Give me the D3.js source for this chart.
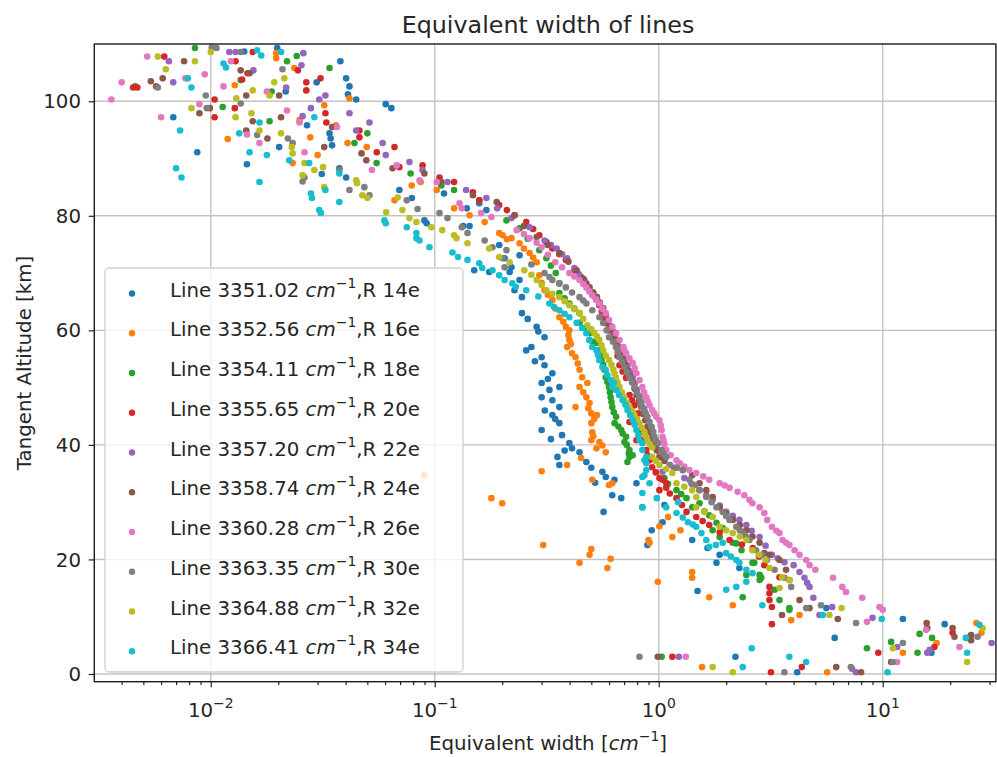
<!DOCTYPE html>
<html><head><meta charset="utf-8">
<script src="https://cdn.jsdelivr.net/npm/d3@7"></script>
<style>body{margin:0;background:#fff;} svg{display:block;font-family:"DejaVu Sans",sans-serif;}</style>
</head><body><svg id="c" width="997" height="757"></svg>
<script>
// ---------- data ----------
const lineWavenumbers = ["3351.02","3352.56","3354.11","3355.65","3357.20","3358.74","3360.28","3363.35","3364.88","3366.41"];
const lineBranches = ["R 14e","R 16e","R 18e","R 20e","R 22e","R 24e","R 26e","R 30e","R 32e","R 34e"];
const colors = ["#1f77b4","#ff7f0e","#2ca02c","#d62728","#9467bd","#8c564b","#e377c2","#7f7f7f","#bcbd22","#17becf"];
const xMajorTicks = [0.01, 0.1, 1, 10];
const xTickExponents = ["\u22122","\u22121","0","1"];
const yTicks = [0, 20, 40, 60, 80, 100];

// each point: [equivalent width (cm^-1), tangent altitude (km)]
const line14e = [[0.0141,108.7],[0.0198,109.3],[0.0379,107.0],[0.0297,103.3],[0.0402,104.0],[0.0416,102.6],[0.041,101.2],[0.0446,100.3],[0.0604,99.5],[0.064,98.8],[0.0216,101.7],[0.0068,97.2],[0.0269,95.8],[0.0339,94.4],[0.0348,92.3],[0.0202,92.0],[0.0087,91.1],[0.0145,89.0],[0.0313,87.3],[0.0375,88.3],[0.0402,86.7],[0.0343,93.5],
[0.0695,84.5],[0.079,83.1],[0.0899,79.2],[0.092,78.7],[0.110,83.9],[0.139,81.3],[0.158,82.2],[0.170,81.0],[0.134,78.2],[0.143,78.2],[0.150,70.5],[0.175,70.2],[0.220,71.0],[0.194,74.9],[0.239,73.1],[0.216,70.2],[0.227,67.0],[0.205,72.6],
[0.239,68.8],[0.245,65.8],[0.245,63.0],[0.26,62.0],[0.285,60.6],[0.29,59.8],[0.309,58.8],[0.256,56.5],[0.27,57.1],[0.30,55.3],[0.28,54.6],[0.309,53.9],[0.335,52.5],[0.32,51.5],[0.30,50.8],[0.325,49.6],[0.36,50.1],[0.30,48.3],[0.335,47.8],[0.36,46.6],[0.31,46.0],[0.335,45.2],[0.345,44.5],[0.36,43.8],[0.30,42.6],[0.37,41.7],[0.33,41.0],[0.399,40.3],[0.41,39.4],[0.38,39.0],[0.443,38.7],[0.353,37.9],[0.36,36.5],[0.475,37.0],[0.5,36.0],[0.56,35.3],[0.58,34.4],[0.634,33.9],[0.52,33.4],[0.62,31.2],[0.68,30.7],[0.795,33.3],[0.845,29.1],[0.567,28.3],[1.06,29.5],
[0.93,25.1],[0.89,22.5],[1.04,26.5],[1.41,23.4],[1.49,14.5],[1.87,20.8],[2.29,18.5],[1.81,19.4],[1.65,22.0],[2.2,3.0],[4.15,0.3],[6.1,6.3],[12.3,9.6],[18.9,8.7],[16.5,3.7],[5.6,11.5]];

const line16e = [[0.0196,108.4],[0.0196,107.5],[0.0236,105.8],[0.0128,102.8],[0.0416,100.5],[0.0362,95.8],[0.0497,92.0],[0.0408,92.7],[0.0119,93.4],[0.0232,89.2],[0.030,90.6],[0.0278,93.7],[0.0249,96.7],[0.0321,99.3],
[0.0789,85.3],[0.0865,85.9],[0.102,84.5],[0.0661,82.7],[0.122,81.3],[0.143,80.1],[0.167,78.9],[0.194,77.0],[0.201,76.6],[0.21,75.9],[0.220,76.1],[0.239,75.2],[0.25,74.3],[0.265,73.5],[0.275,72.7],[0.285,71.9],[0.293,69.6],[0.30,68.3],[0.309,67.0],[0.32,66.2],[0.335,65.3],[0.345,63.8],[0.36,62.3],[0.375,61.5],[0.385,60.6],[0.399,60.0],[0.395,59.2],[0.399,58.3],[0.405,57.6],[0.39,57.1],[0.41,56.0],[0.425,55.3],[0.435,54.2],[0.443,53.1],[0.455,51.8],[0.443,50.1],[0.48,50.8],[0.46,49.2],[0.475,48.3],[0.491,47.3],[0.425,46.6],[0.485,46.4],[0.50,45.5],[0.53,45.2],[0.515,44.5],[0.50,43.8],[0.505,42.2],[0.51,41.5],[0.50,40.8],[0.543,40.5],[0.56,39.9],[0.527,39.4],[0.58,38.7],[0.45,37.7],[0.39,36.5],[0.30,35.4],[0.505,33.9],[0.62,33.3],[0.60,33.0],[0.0899,34.7],
[0.179,30.7],[0.20,29.8],[0.305,22.5],[0.443,19.4],[0.491,20.8],[0.50,21.8],[0.59,18.5],[0.61,20.1],[0.99,16.1],[0.90,23.4],[0.91,22.9],[1.007,25.8],[1.10,27.4],[1.15,23.9],[1.25,25.1],[1.41,17.8],[1.41,16.8],[1.68,13.4],[2.14,12.0],[3.9,9.4],[4.25,10.3],[1.56,1.2],[5.65,0.3],[12.3,3.7],[17.4,5.4],[26.2,8.9],[27.6,7.2]];

const line18e = [[0.0085,109.3],[0.0046,102.6],[0.0113,99.0],[0.0136,103.7],[0.0219,107.0],[0.0242,107.9],[0.0183,96.5],[0.0187,101.7],[0.0339,105.8],[0.050,94.4],[0.0438,92.7],[0.055,89.2],[0.078,87.4],[0.107,85.3],[0.122,84.5],
[0.158,82.7],[0.209,79.2],[0.239,77.8],[0.26,76.0],[0.293,74.0],[0.315,72.6],[0.33,71.3],[0.347,70.0],[0.36,68.2],[0.36,66.5],[0.38,65.6],[0.399,64.7],[0.42,63.8],[0.443,63.0],[0.443,61.3],[0.465,60.4],[0.491,59.5],[0.491,58.3],[0.51,58.0],[0.53,57.8],[0.543,56.5],[0.55,55.6],[0.555,54.8],[0.565,54.0],[0.572,53.1],[0.58,51.8],[0.59,51.0],[0.60,50.1],[0.605,49.2],[0.61,48.3],[0.615,47.5],[0.62,46.6],[0.63,45.7],[0.645,44.9],[0.635,43.8],[0.66,43.2],[0.68,42.6],[0.69,42.0],[0.715,41.4],[0.703,40.5],[0.72,40.0],[0.74,39.1],[0.735,38.5],[0.74,37.9],[0.725,37.0],[0.765,38.2],
[1.06,34.2],[1.1,33.2],[1.2,32.1],[1.26,31.4],[1.33,30.7],[1.41,29.1],[1.52,29.8],[1.6,28.4],[1.68,27.7],[1.81,26.4],[1.93,25.5],[1.74,25.1],[1.87,23.9],[2.14,22.9],[2.22,22.8],[2.34,21.6],[2.62,19.4],[2.67,19.4],[2.46,17.3],[2.82,16.4],[2.82,17.3],[2.87,16.8],[2.37,13.4],[3.46,12.9],[3.83,11.2],[3.83,11.5],[3.29,14.7],[8.5,4.5],[10.9,5.6],[14.6,7.0],[14.3,3.7],[16.6,6.3],[1.03,3.0]];

const line20e = [[0.0045,102.4],[0.0047,102.4],[0.0062,107.8],[0.0104,100.3],[0.0104,97.2],[0.0128,98.8],[0.0129,107.0],[0.0146,104.9],[0.0154,108.6],[0.0138,103.8],[0.0245,105.4],[0.0267,103.3],[0.0267,101.9],[0.0309,104.0],[0.0325,97.9],[0.0328,96.3],[0.0461,94.9],[0.0461,93.7],[0.0661,92.0],[0.0551,91.1],[0.0695,88.5],[0.0882,88.8],[0.105,86.7],[0.122,85.9],[0.148,84.1],[0.158,82.7],
[0.194,81.9],[0.21,81.0],[0.227,80.1],[0.256,78.9],[0.275,77.7],[0.293,76.6],[0.315,75.4],[0.335,74.3],[0.36,73.3],[0.385,72.3],[0.42,70.5],[0.45,69.3],[0.475,68.2],[0.505,66.5],[0.525,65.4],[0.543,64.4],[0.557,63.3],[0.572,62.3],[0.585,61.2],[0.60,60.0],[0.62,58.6],[0.645,57.1],[0.655,55.5],[0.668,53.9],[0.69,52.8],[0.715,51.7],[0.74,48.7],[0.76,47.8],[0.779,46.9],[0.81,45.5],[0.795,44.3],[0.74,44.0],[0.83,42.2],[0.86,41.0],[0.795,40.8],[0.88,39.1],[0.89,38.2],[0.91,37.3],[0.935,36.1],[0.97,35.2],[1.007,34.2],[1.04,33.9],[1.08,32.5],[1.007,32.1],[1.08,33.3],[1.12,31.5],[1.2,30.7],[1.27,29.5],[1.33,28.3],[1.47,27.4],[1.57,26.7],[1.68,26.0],[1.87,24.7],[2.07,23.4],[2.35,22.6],[2.63,22.0],[2.8,20.5],[2.96,19.0],[3.46,16.9],[3.12,15.2],[3.12,14.1],[3.12,12.9],[3.2,11.7],[3.2,8.7],[3.17,0.3],[4.35,1.2],[9.55,3.7],[17.0,4.7],[20.5,7.2],[23.8,6.3],[1.15,3.0]];

const line22e = [[0.0065,107.0],[0.0068,103.3],[0.0121,108.6],[0.0129,108.6],[0.0155,105.4],[0.0217,102.4],[0.0254,106.3],[0.0259,108.4],[0.028,98.8],[0.0325,101.0],[0.0305,100.3],[0.0257,97.4],[0.0416,97.9],[0.0511,96.3],[0.0446,94.9],[0.0585,92.7],[0.0604,90.6],[0.0771,89.4],[0.0882,88.0],[0.114,85.9],[0.138,84.5],[0.17,83.1],[0.19,81.3],[0.22,79.6],[0.265,78.0],[0.35,74.3],
[0.309,75.7],[0.33,74.9],[0.37,73.3],[0.39,72.6],[0.42,70.9],[0.44,69.8],[0.466,68.8],[0.50,66.7],[0.52,65.9],[0.543,64.9],[0.56,63.7],[0.58,62.7],[0.61,60.6],[0.63,59.4],[0.655,58.3],[0.68,56.2],[0.70,55.0],[0.725,53.9],[0.745,52.8],[0.765,51.8],[0.78,50.7],[0.80,49.6],[0.82,48.5],[0.835,47.5],[0.86,46.3],[0.88,45.2],[0.91,43.1],[0.93,42.0],[0.957,40.8],[0.975,39.9],[0.99,39.1],[1.04,37.7],[1.04,35.3],[1.17,36.0],[1.3,34.2],[1.4,33.2],[1.52,32.1],[1.63,31.2],[1.74,30.4],[1.87,29.4],[2.0,28.3],[2.14,27.6],[2.29,26.9],[2.46,26.0],[2.6,25.0],[2.82,23.9],[3.0,22.4],[3.2,20.8],[3.4,20.2],[3.64,19.5],[4.0,19.0],[4.25,17.8],[4.47,16.8],[4.6,15.9],[4.71,15.2],[4.9,13.3],[5.22,10.3],[5.95,11.7],[9.0,9.8],[7.3,0.9],[7.6,0.3],[11.6,4.7],[15.8,3.7],[16.2,4.2],[30.6,5.4],[1.23,3.0]];

const line24e = [[0.0054,103.5],[0.0057,102.6],[0.0061,104.0],[0.0076,107.0],[0.0089,97.9],[0.0099,98.8],[0.0136,105.4],[0.0149,104.9],[0.0144,101.0],[0.0144,94.9],[0.0179,93.5],[0.0202,101.0],[0.0206,97.2],[0.0154,96.5],[0.0321,92.0],[0.0348,95.5],[0.0471,90.9],[0.0495,89.7],[0.0648,88.3],[0.0899,87.4],[0.107,85.9],[0.148,83.6],[0.189,82.4],
[0.227,80.1],[0.25,78.2],[0.285,76.3],[0.32,74.9],[0.36,73.5],[0.395,72.0],[0.43,70.5],[0.46,69.0],[0.491,67.5],[0.51,66.6],[0.53,65.8],[0.545,64.8],[0.565,63.9],[0.58,62.8],[0.595,61.8],[0.61,60.7],[0.627,59.7],[0.64,58.5],[0.655,57.4],[0.67,56.3],[0.69,55.3],[0.705,54.2],[0.725,53.1],[0.745,52.0],[0.765,51.0],[0.78,49.8],[0.795,48.7],[0.815,47.6],[0.835,46.6],[0.85,45.4],[0.87,44.3],[0.89,43.2],[0.91,42.2],[0.935,41.1],[0.957,40.0],[0.98,39.0],[1.007,37.9],[1.06,37.2],[1.12,36.5],[1.2,36.0],[1.28,35.6],[1.41,34.7],[1.52,33.3],[1.63,32.1],[1.74,30.9],[1.87,29.1],[2.0,28.0],[2.14,26.9],[2.3,26.0],[2.46,25.1],[2.62,24.0],[2.82,22.9],[2.96,21.1],[3.12,20.8],[3.46,19.9],[3.7,18.2],[3.83,16.4],[4.25,12.9],[3.55,10.3],[4.71,11.5],[6.3,9.6],[6.2,1.2],[8.0,0.3],[10.9,2.1],[15.7,8.9],[15.8,8.0],[20.5,8.0],[20.9,6.5],[24.8,6.8],[24.8,5.9],[0.99,3.0]];

const line26e = [[0.0036,100.3],[0.0040,103.3],[0.0052,107.8],[0.006,97.2],[0.0077,104.0],[0.0089,99.5],[0.0094,104.7],[0.0114,102.6],[0.0123,107.0],[0.0145,94.2],[0.0165,92.7],[0.0178,101.7],[0.0219,98.4],[0.0249,96.3],[0.0262,91.1],[0.0366,95.5],[0.0524,88.0],[0.0676,88.8],[0.0855,86.2],[0.102,85.9],[0.129,82.2],[0.132,81.3],[0.161,80.5],[0.179,79.8],
[0.232,77.5],[0.25,76.8],[0.265,76.1],[0.285,75.3],[0.30,74.5],[0.32,73.2],[0.345,71.9],[0.37,71.0],[0.399,70.0],[0.42,69.4],[0.443,68.8],[0.46,68.1],[0.475,67.5],[0.49,66.8],[0.505,66.1],[0.525,65.4],[0.543,64.7],[0.56,63.8],[0.58,63.0],[0.60,61.8],[0.62,60.6],[0.645,59.5],[0.668,58.3],[0.695,57.1],[0.70,56.6],[0.715,56.0],[0.74,55.1],[0.765,54.3],[0.78,53.4],[0.795,52.5],[0.82,51.3],[0.845,50.1],[0.86,49.2],[0.88,48.3],[0.895,47.6],[0.91,46.9],[0.935,46.1],[0.955,45.5],[0.975,44.9],[1.007,44.3],[1.02,43.4],[1.03,42.6],[1.04,41.4],[1.05,40.8],[1.06,40.1],[1.08,39.1],[1.13,38.2],[1.2,37.3],[1.24,36.8],[1.3,36.2],[1.37,35.6],[1.47,35.1],[1.58,34.5],[1.68,33.9],[1.87,33.3],[1.97,32.9],[2.07,32.5],[2.25,31.8],[2.41,31.2],[2.54,30.4],[2.62,29.8],[2.82,29.1],[2.96,28.1],[3.05,26.9],[3.2,25.7],[3.35,25.0],[3.46,24.6],[3.57,23.4],[3.7,22.9],[3.83,22.5],[4.04,21.6],[4.25,20.8],[4.55,19.9],[4.71,19.0],[5.0,18.2],[6.0,16.8],[6.6,15.2],[6.85,14.3],[8.1,13.3],[9.67,11.7],[10.0,11.2],[8.5,9.1],[1.32,3.0],[11.6,2.1],[22.0,4.7],[15.6,7.7]];

const line30e = [[0.0058,102.4],[0.0101,109.4],[0.0106,109.3],[0.0095,101.0],[0.0096,98.8],[0.0136,99.6],[0.0136,108.6],[0.0161,94.1],[0.0209,105.6],[0.0221,93.5],[0.0232,92.7],[0.0257,86.0],[0.0262,86.7],[0.0375,88.0],[0.0416,84.5],[0.0485,85.0],[0.0511,83.6],[0.075,82.7],[0.0838,81.2],[0.105,80.5],[0.114,79.6],[0.132,78.0],[0.14,77.0],[0.167,75.7],[0.181,74.5],
[0.209,74.0],[0.201,72.6],[0.205,71.0],[0.27,71.5],[0.325,69.3],[0.309,70.0],[0.335,68.8],[0.36,68.2],[0.385,67.5],[0.41,66.6],[0.443,65.8],[0.46,65.2],[0.475,64.7],[0.505,63.5],[0.543,62.3],[0.565,61.3],[0.585,60.0],[0.60,58.8],[0.625,58.0],[0.645,57.1],[0.655,56.2],[0.668,55.3],[0.685,54.5],[0.703,53.6],[0.72,52.7],[0.74,51.8],[0.76,50.9],[0.779,50.1],[0.80,49.2],[0.82,48.3],[0.835,47.5],[0.845,46.6],[0.87,45.7],[0.89,44.9],[0.91,44.0],[0.93,43.1],[0.945,42.3],[0.957,41.4],[0.97,40.8],[0.99,40.3],[1.03,39.1],[1.05,38.5],[1.08,37.9],[1.12,36.5],[1.2,36.0],[1.28,35.6],[1.37,33.9],[1.45,33.0],[1.52,32.1],[1.63,30.9],[1.72,30.0],[1.81,29.1],[1.93,28.3],[2.0,27.6],[2.07,26.9],[2.22,25.7],[2.3,25.1],[2.37,24.6],[2.45,24.0],[2.54,23.4],[2.72,21.6],[2.9,20.8],[3.04,19.9],[3.29,18.2],[3.64,16.8],[3.9,15.2],[4.55,11.5],[5.3,12.0],[7.6,8.9],[12.3,5.4],[3.64,0.3],[7.2,1.2],[26.5,6.5],[11.1,2.1],[0.82,3.0]];

const line32e = [[0.0058,107.8],[0.0063,105.6],[0.0082,98.8],[0.0085,107.0],[0.0129,97.2],[0.013,100.5],[0.0152,97.9],[0.0154,101.9],[0.01,108.6],[0.0165,94.9],[0.0183,101.0],[0.0192,103.3],[0.0213,104.0],[0.0206,94.4],[0.023,92.0],[0.0232,90.9],[0.0262,89.2],[0.0257,87.1],[0.029,88.0],[0.0321,85.0],[0.0317,88.5],[0.0446,86.2],[0.045,85.7],[0.0475,83.6],[0.05,83.1],[0.0683,83.2],[0.0607,80.6],[0.0717,81.0],[0.0771,79.6],[0.0828,78.9],[0.0966,78.0],[0.108,77.5],[0.122,76.6],[0.125,76.1],[0.14,75.2],[0.175,74.3],[0.194,72.8],[0.216,71.9],
[0.251,70.5],[0.27,69.7],[0.285,68.8],[0.30,67.9],[0.315,67.0],[0.335,66.4],[0.36,65.8],[0.38,65.1],[0.399,64.4],[0.42,63.7],[0.443,63.0],[0.46,62.0],[0.48,60.9],[0.50,60.2],[0.516,59.5],[0.53,58.9],[0.543,58.3],[0.555,57.4],[0.565,56.5],[0.58,55.6],[0.60,54.8],[0.615,54.0],[0.627,53.1],[0.635,52.4],[0.645,51.7],[0.655,50.9],[0.668,50.1],[0.685,49.2],[0.703,48.3],[0.72,47.4],[0.74,46.6],[0.76,45.9],[0.779,45.2],[0.80,44.5],[0.82,43.8],[0.84,43.0],[0.863,42.2],[0.875,41.5],[0.89,40.8],[0.91,40.2],[0.935,39.6],[0.935,37.9],[0.97,37.2],[1.007,36.5],[1.08,35.8],[1.15,35.1],[1.2,33.3],[1.3,32.7],[1.41,32.1],[1.47,30.9],[1.47,29.1],[1.6,28.3],[1.74,27.4],[1.87,25.7],[2.0,25.1],[2.14,24.6],[2.3,24.0],[2.46,23.4],[2.62,21.6],[2.8,20.8],[3.0,19.9],[3.12,18.5],[3.55,16.9],[3.83,16.4],[3.46,15.0],[6.55,11.5],[5.78,10.3],[11.1,4.5],[23.8,2.1],[27.9,8.0],[1.74,1.2],[2.14,0.3]];

const line34e = [[0.007,88.3],[0.0074,86.7],[0.0073,94.9],[0.0079,104.0],[0.0082,102.4],[0.0114,106.6],[0.0117,105.9],[0.0134,94.4],[0.0149,91.1],[0.0165,85.9],[0.0178,90.6],[0.0165,96.3],[0.0161,108.9],[0.0168,108.0],[0.0224,89.7],[0.0275,89.2],[0.028,83.9],[0.0283,83.1],[0.0305,81.0],[0.031,80.5],[0.0375,82.4],[0.0325,84.5],[0.0375,87.4],[0.029,97.2],[0.0206,108.6],
[0.0596,79.2],[0.0604,78.7],[0.075,78.0],[0.0828,77.0],[0.0828,76.1],[0.0855,75.7],[0.0947,74.5],[0.12,73.6],[0.127,72.8],[0.14,72.3],[0.158,71.7],[0.163,70.9],[0.181,70.5],[0.194,69.6],[0.205,68.8],[0.222,68.2],[0.23,67.6],[0.256,67.0],[0.29,65.9],[0.325,64.7],[0.34,64.1],[0.36,63.5],[0.38,62.9],[0.399,62.3],[0.43,61.3],[0.455,60.4],[0.475,59.5],[0.49,58.3],[0.505,57.1],[0.527,56.5],[0.535,55.7],[0.543,54.8],[0.56,53.6],[0.58,53.1],[0.59,52.2],[0.61,51.3],[0.63,50.8],[0.62,50.1],[0.645,49.6],[0.665,48.7],[0.69,47.8],[0.71,47.0],[0.725,46.1],[0.745,45.2],[0.765,44.3],[0.78,43.5],[0.795,42.6],[0.81,41.7],[0.82,40.8],[0.845,40.3],[0.845,39.1],[0.88,37.9],[0.863,37.3],[0.88,36.8],[0.88,35.6],[0.863,34.7],[0.845,34.4],[0.91,33.3],[0.845,31.6],[0.98,30.7],[0.845,29.1],[1.08,29.1],[1.2,28.1],[1.22,30.0],[1.28,27.3],[1.35,26.5],[1.42,26.1],[1.47,25.7],[1.55,24.6],[1.63,23.4],[1.68,22.2],[1.8,22.5],[1.93,22.9],[2.0,21.1],[2.1,20.5],[2.22,19.9],[2.29,19.4],[2.46,18.2],[2.62,17.6],[2.46,16.1],[2.0,14.7],[2.22,15.2],[2.9,12.0],[2.6,4.5],[3.83,3.0],[4.55,2.1],[2.37,1.2],[5.4,10.3],[9.9,9.6],[10.5,0.3],[23.8,3.7],[27.0,8.6],[23.5,6.3]];

const seriesData = [line14e,line16e,line18e,line20e,line22e,line24e,line26e,line30e,line32e,line34e];

// ---------- layout ----------
const L = 94.3, R = 995.9, T = 44, B = 681.7;
const x = d3.scaleLog().domain([0.00302, 32]).range([L, R]);
const y = d3.scaleLinear().domain([-1.35, 110]).range([B, T]);
const svg = d3.select("#c");
const textColor = "#262626";
const fs = 19.8, fsSup = 13.9, supShift = 9;

svg.append("defs").append("clipPath").attr("id","clip")
  .append("rect").attr("x",L).attr("y",T).attr("width",R-L).attr("height",B-T);

// grid
const grid = svg.append("g");
grid.selectAll("line.gx").data(xMajorTicks).join("line").attr("class","gx")
  .attr("x1",d=>x(d)).attr("x2",d=>x(d)).attr("y1",T).attr("y2",B)
  .attr("stroke","#c3c3c3").attr("stroke-width",1.4);
grid.selectAll("line.gy").data(yTicks).join("line").attr("class","gy")
  .attr("x1",L).attr("x2",R).attr("y1",d=>y(d)).attr("y2",d=>y(d))
  .attr("stroke","#c3c3c3").attr("stroke-width",1.4);

// points
const pts = svg.append("g").attr("clip-path","url(#clip)");
seriesData.forEach((s,i)=>{
  pts.append("g").selectAll("circle").data(s).join("circle")
    .attr("cx",d=>x(d[0])).attr("cy",d=>y(d[1])).attr("r",3.3).attr("fill",colors[i]);
});

// axes ticks
const xMinor = [];
[0.001,0.01,0.1,1,10].forEach(b=>{for(let k=2;k<=9;k++){const v=b*k; if(v>=0.00302 && v<=32) xMinor.push(v);}});
const xAxisMajor = d3.axisBottom(x).tickValues(xMajorTicks).tickSize(5.6).tickFormat("");
const xAxisMinor = d3.axisBottom(x).tickValues(xMinor).tickSize(3.4).tickFormat("");
[xAxisMajor,xAxisMinor].forEach(ax=>{
  const g = svg.append("g").attr("transform",`translate(0,${B})`).call(ax);
  g.select(".domain").remove();
  g.selectAll("line").attr("stroke","#222").attr("stroke-width",1.2);
});
const yAxis = d3.axisLeft(y).tickValues(yTicks).tickSize(5.6).tickFormat("");
const gy = svg.append("g").attr("transform",`translate(${L},0)`).call(yAxis);
gy.select(".domain").remove();
gy.selectAll("line").attr("stroke","#222").attr("stroke-width",1.2);

// y tick labels
svg.append("g").selectAll("text").data(yTicks).join("text")
  .attr("x",81).attr("y",d=>y(d)).attr("dy","0.36em").attr("text-anchor","end")
  .attr("font-size",fs).attr("fill",textColor).text(d=>d);

// x tick labels
const xl = svg.append("g").selectAll("text").data(xMajorTicks).join("text")
  .attr("x",d=>x(d)).attr("y",717).attr("text-anchor","middle").attr("font-size",fs).attr("fill",textColor);
xl.append("tspan").text("10");
xl.append("tspan").attr("dy",-supShift).attr("font-size",fsSup).text((d,i)=>xTickExponents[i]);

// frame
svg.append("rect").attr("x",L).attr("y",T).attr("width",R-L).attr("height",B-T)
  .attr("fill","none").attr("stroke","#1a1a1a").attr("stroke-width",1.4);

// title
svg.append("text").attr("x",548).attr("y",33).attr("text-anchor","middle")
  .attr("font-size",23.8).attr("fill",textColor).text("Equivalent width of lines");

// x label
const xlab = svg.append("text").attr("x",548).attr("y",750).attr("text-anchor","middle")
  .attr("font-size",fs).attr("fill",textColor);
xlab.append("tspan").text("Equivalent width [");
xlab.append("tspan").attr("font-style","italic").text("cm");
xlab.append("tspan").attr("dy",-supShift).attr("font-size",fsSup).text("\u22121");
xlab.append("tspan").attr("dy",supShift).text("]");

// y label
svg.append("text").attr("transform","translate(31,363) rotate(-90)").attr("text-anchor","middle")
  .attr("font-size",fs).attr("fill",textColor).text("Tangent Altitude [km]");

// legend
const lg = svg.append("g");
lg.append("rect").attr("x",105).attr("y",268).attr("width",358).attr("height",404).attr("rx",4)
  .attr("fill","#fff").attr("fill-opacity",0.8).attr("stroke","#cfcfcf").attr("stroke-width",1.3);
const rows = lg.selectAll("g.row").data(d3.range(lineWavenumbers.length)).join("g").attr("class","row")
  .attr("transform",i=>`translate(0,${293.5+i*39.75})`);
rows.append("circle").attr("cx",132).attr("cy",0).attr("r",3.2).attr("fill",i=>colors[i]);
const lt = rows.append("text").attr("x",170).attr("y",3).attr("font-size",fs).attr("fill",textColor);
lt.append("tspan").text(i=>"Line "+lineWavenumbers[i]+" ");
lt.append("tspan").attr("font-style","italic").text("cm");
lt.append("tspan").attr("dy",-supShift).attr("font-size",fsSup).text("\u22121");
lt.append("tspan").attr("dy",supShift).text(i=>","+lineBranches[i]);
</script>
</body></html>
